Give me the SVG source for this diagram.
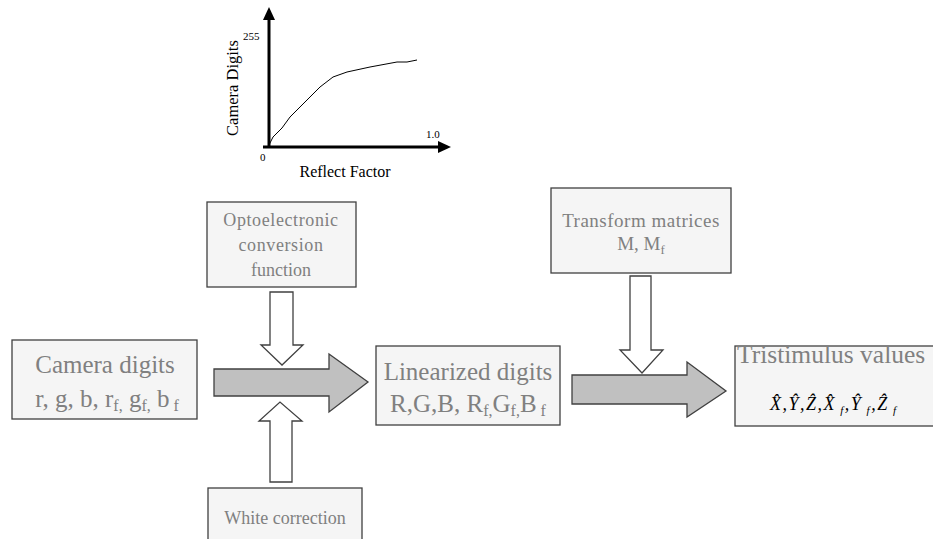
<svg xmlns="http://www.w3.org/2000/svg" width="933" height="539" viewBox="0 0 933 539">
<style>
.box{fill:#f5f5f5;stroke:#404040;stroke-width:1.3}
.t{font-family:"Liberation Serif","Times New Roman",serif;fill:#808080;text-anchor:middle}
.ts{font-family:"Liberation Serif","Times New Roman",serif;fill:#808080;text-anchor:start}
.g{font-family:"Liberation Serif","Times New Roman",serif;fill:#000}
.big{fill:#c0c0c0;stroke:#404040;stroke-width:1.3;stroke-linejoin:miter}
.open{fill:#fff;stroke:#404040;stroke-width:1.3;stroke-linejoin:miter}
.ax{stroke:#000;stroke-width:3;fill:none}
</style>
<rect width="933" height="539" fill="#fff"/>
<g id="graph">
  <line class="ax" x1="269" y1="148" x2="269" y2="18"/>
  <polygon points="269,7 263,20 275,20" fill="#000"/>
  <line class="ax" x1="263" y1="147" x2="440" y2="147"/>
  <polygon points="451,147 438,141 438,153" fill="#000"/>
  <polyline points="268,147 273,137 282,128 290,117 299,108 307,100 320,87 333,77 347,72 370,67 397,62 407,62 412,61 417,60" fill="none" stroke="#000" stroke-width="1"/>
  <text class="g" x="243" y="40" font-size="11">255</text>
  <text class="g" x="426" y="138" font-size="11">1.0</text>
  <text class="g" x="260" y="161" font-size="11">0</text>
  <text class="g" transform="translate(238,88) rotate(-90)" text-anchor="middle" font-size="16.5">Camera Digits</text>
  <text class="g" x="345" y="177" text-anchor="middle" font-size="16">Reflect Factor</text>
</g>
<g id="connectors">
  <polygon class="big" points="214,369 329,369 329,354 368,382 329,412 329,396 214,396"/>
  <polygon class="big" points="572,375 687,375 687,362 726,391 687,417 687,404 572,404"/>
  <polygon class="open" points="270,292 293,292 293,345 303,345 282,365 261,345 270,345"/>
  <polygon class="open" points="270,482 292,482 292,421 302,421 280,402 259,421 270,421"/>
  <polygon class="open" points="630,276 651,276 651,350 663,350 642,373 620,350 630,350"/>
</g>
<g id="opto">
  <rect class="box" x="207" y="202" width="149" height="85"/>
  <text class="t" x="281" y="226" font-size="18" letter-spacing="0.6">Optoelectronic</text>
  <text class="t" x="281" y="251" font-size="18" letter-spacing="0.6">conversion</text>
  <text class="t" x="281" y="276" font-size="18">function</text>
</g>
<g id="white">
  <rect class="box" x="208" y="488" width="154" height="60"/>
  <text class="t" x="285" y="524" font-size="18">White correction</text>
</g>
<g id="camera">
  <rect class="box" x="12" y="340" width="185" height="79"/>
  <text class="t" x="105" y="373" font-size="25">Camera digits</text>
  <text class="t" x="107" y="407" font-size="25">r, g, b, r<tspan font-size="16" dy="4">f,</tspan><tspan dy="-4"> g</tspan><tspan font-size="16" dy="4">f,</tspan><tspan dy="-4"> b</tspan><tspan font-size="16" dy="4"> f</tspan></text>
</g>
<g id="linear">
  <rect class="box" x="376" y="346" width="184" height="79"/>
  <text class="t" x="468" y="380" font-size="25">Linearized digits</text>
  <text class="t" x="468" y="412" font-size="25">R,G,B, R<tspan font-size="16" dy="4">f,</tspan><tspan dy="-4">G</tspan><tspan font-size="16" dy="4">f,</tspan><tspan dy="-4">B</tspan><tspan font-size="16" dy="4"> f</tspan></text>
</g>
<g id="transform">
  <rect class="box" x="551" y="188" width="180" height="85"/>
  <text class="t" x="641" y="227" font-size="19" letter-spacing="0.5">Transform matrices</text>
  <text class="t" x="641" y="250" font-size="19">M, M<tspan font-size="13" dy="4">f</tspan></text>
</g>
<g id="tristimulus">
  <rect class="box" x="735" y="346" width="205" height="80"/>
  <text class="ts" x="737" y="363" font-size="25.5">Tristimulus values</text>
  <text class="g" x="770" y="410" font-size="18" font-style="italic" letter-spacing="1.5">X̂,Ŷ,Ẑ,X̂<tspan font-size="11" dy="4"> f</tspan><tspan dy="-4">,Ŷ</tspan><tspan font-size="11" dy="4"> f</tspan><tspan dy="-4">,Ẑ</tspan><tspan font-size="11" dy="4"> f</tspan></text>
</g>
</svg>
